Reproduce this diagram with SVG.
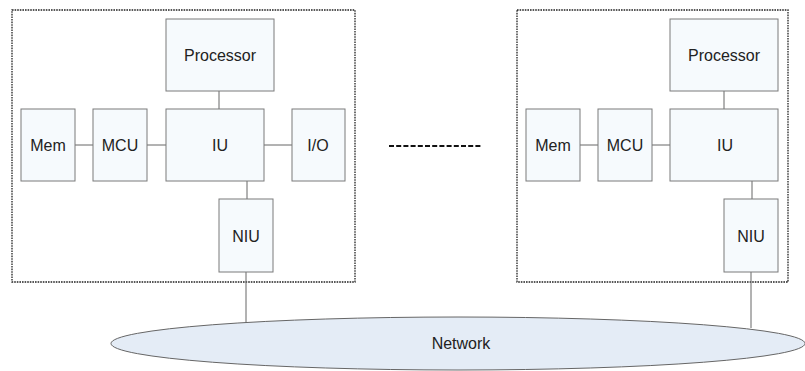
<svg xmlns="http://www.w3.org/2000/svg" width="805" height="371" viewBox="0 0 805 371">
<style>
.frame{fill:none;stroke:#222;stroke-width:1.3;stroke-dasharray:1.6,1}
.box{fill:#f6fafd;stroke:#7a7a7a;stroke-width:1}
.lbl{font-family:"Liberation Sans",Arial,sans-serif;font-size:16px;fill:#222;text-anchor:middle}
.wire{stroke:#666;stroke-width:1;fill:none}
</style>
<rect width="805" height="371" fill="#fff"/>
<g id="node-left-frame"><rect class="frame" x="12" y="10" width="343" height="272"/></g>
<g id="node-right-frame"><rect class="frame" x="517" y="10" width="271" height="272"/></g>
<g id="connectors">
<line class="wire" x1="75" y1="145" x2="93" y2="145"/>
<line class="wire" x1="147" y1="145" x2="166" y2="145"/>
<line class="wire" x1="264" y1="145" x2="292" y2="145"/>
<line class="wire" x1="219" y1="91" x2="219" y2="109"/>
<line class="wire" x1="247" y1="181" x2="247" y2="199"/>
<line class="wire" x1="246" y1="272" x2="246" y2="329"/>
<line class="wire" x1="580" y1="145" x2="598" y2="145"/>
<line class="wire" x1="652" y1="145" x2="670" y2="145"/>
<line class="wire" x1="724" y1="91" x2="724" y2="109"/>
<line class="wire" x1="752" y1="181" x2="752" y2="199"/>
<line class="wire" x1="751" y1="272" x2="751" y2="328"/>
<line x1="389" y1="146" x2="482" y2="146" stroke="#111" stroke-width="2" stroke-dasharray="5,2.2"/>
</g>
<g id="node-network"><ellipse cx="458" cy="343.5" rx="347" ry="26.5" fill="#e4ecf6" stroke="#666" stroke-width="1"/><text class="lbl" x="461" y="349">Network</text></g>
<g id="node-processor-l"><rect class="box" x="166" y="19" width="108" height="72"/><text class="lbl" x="220" y="61">Processor</text></g>
<g id="node-mem-l"><rect class="box" x="21" y="109" width="54" height="72"/><text class="lbl" x="48" y="151">Mem</text></g>
<g id="node-mcu-l"><rect class="box" x="93" y="109" width="54" height="72"/><text class="lbl" x="120" y="151">MCU</text></g>
<g id="node-iu-l"><rect class="box" x="166" y="109" width="98" height="72"/><text class="lbl" x="220" y="151">IU</text></g>
<g id="node-io-l"><rect class="box" x="292" y="109" width="53" height="72"/><text class="lbl" x="318" y="151">I/O</text></g>
<g id="node-niu-l"><rect class="box" x="219" y="199" width="54" height="73"/><text class="lbl" x="246" y="242">NIU</text></g>
<g id="node-processor-r"><rect class="box" x="670" y="19" width="108" height="72"/><text class="lbl" x="724" y="61">Processor</text></g>
<g id="node-mem-r"><rect class="box" x="526" y="109" width="54" height="72"/><text class="lbl" x="553" y="151">Mem</text></g>
<g id="node-mcu-r"><rect class="box" x="598" y="109" width="54" height="72"/><text class="lbl" x="625" y="151">MCU</text></g>
<g id="node-iu-r"><rect class="box" x="670" y="109" width="108" height="72"/><text class="lbl" x="725" y="151">IU</text></g>
<g id="node-niu-r"><rect class="box" x="724" y="199" width="54" height="73"/><text class="lbl" x="751" y="242">NIU</text></g>
</svg>
